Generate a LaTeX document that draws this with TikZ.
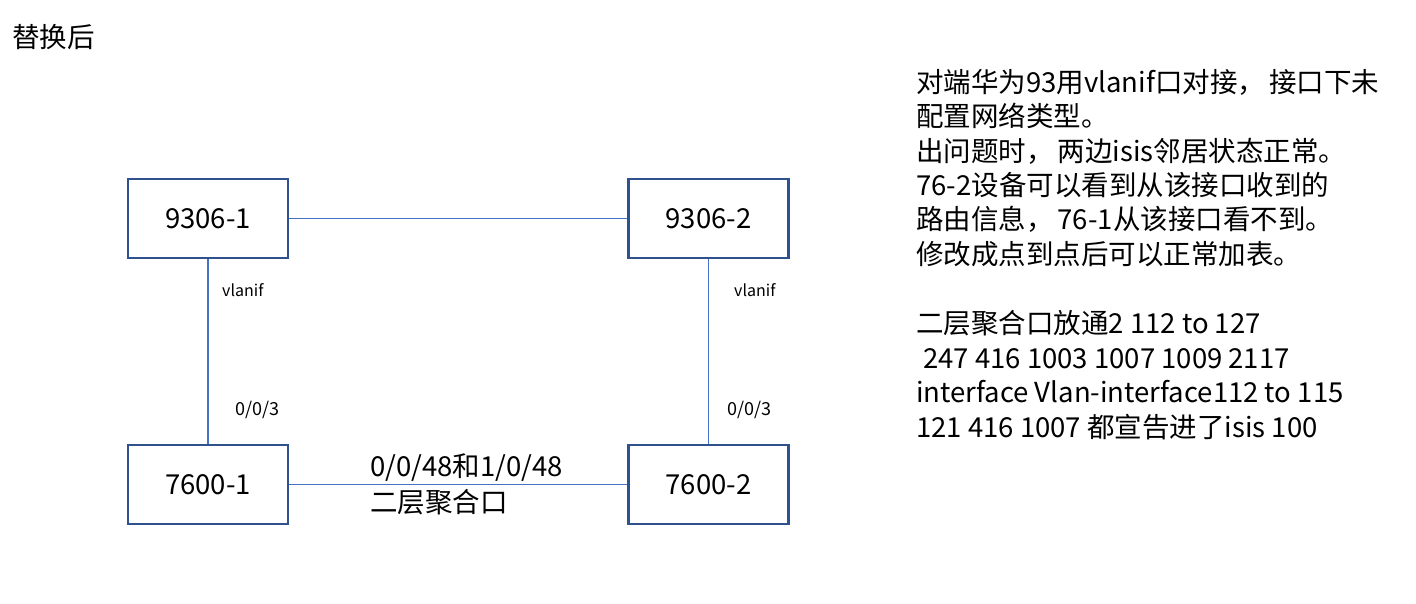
\documentclass[tikz,border=0pt]{standalone}
\usepackage{fontspec}
\setmainfont{Noto Sans CJK SC}
\definecolor{boxblue}{HTML}{2F528F}
\definecolor{lineblue}{HTML}{4472C4}
\newcommand{\cm}{，\hspace{4pt}}
\begin{document}
\begin{tikzpicture}[x=1pt,y=-1pt,
  dev/.style={draw=boxblue,line width=2.6pt,minimum width=160pt,minimum height=79pt,inner sep=0pt,font=\fontsize{27.5}{32}\selectfont},
  link/.style={draw=lineblue,line width=1.1pt},
  small/.style={font=\fontsize{16}{19}\selectfont,inner sep=0pt},
  port/.style={font=\fontsize{18}{21}\selectfont,inner sep=0pt},
  big/.style={font=\fontsize{27.5}{33}\selectfont,inner sep=0pt}]
\useasboundingbox (0,0) rectangle (1416,603);
\node[big,anchor=west] (title) at (12,37) {替换后};
\node[dev] (a) at (208,218.5) {9306-1};
\node[dev] (b) at (708.5,218.5) {9306-2};
\node[dev] (c) at (208,484.5) {7600-1};
\node[dev] (d) at (708.5,484.5) {7600-2};
\draw[link] (a.east) -- (b.west);
\draw[link] (c.east) -- (d.west);
\draw[link] (a.south) -- (c.north);
\draw[link] (b.south) -- (d.north);
\node[small,anchor=west] (v1) at (222,290) {vlanif};
\node[port,anchor=west] (p1) at (235,410) {0/0/3};
\node[small,anchor=west] (v2) at (734,290) {vlanif};
\node[port,anchor=west] (p2) at (727,410) {0/0/3};
\node[big,anchor=west] (l1) at (370,468) {0/0/48和1/0/48};
\node[big,anchor=west] (l2) at (370,502) {二层聚合口};
\node[big,anchor=north west,align=left,font=\fontsize{27.5}{34.4}\selectfont] (t1) at (916,69)
 {对端华为93用vlanif口对接\cm 接口下未\\配置网络类型。\\出问题时\cm 两边isis邻居状态正常。\\76-2设备可以看到从该接口收到的\\路由信息\cm 76-1从该接口看不到。\\修改成点到点后可以正常加表。};
\node[big,anchor=north west,align=left,font=\fontsize{27.5}{34.7}\selectfont] (t2) at (916,310)
 {二层聚合口放通2 112 to 127\\\hspace*{7pt}247 416 1003 1007 1009 2117\\interface Vlan-interface112 to 115\\121 416 1007 都宣告进了isis 100};
\end{tikzpicture}
\end{document}
